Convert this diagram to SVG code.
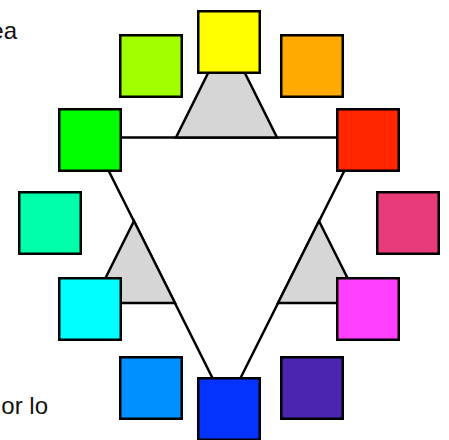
<svg xmlns="http://www.w3.org/2000/svg" width="449" height="440" viewBox="0 0 449 440">
<style>
.sq{stroke:#000;stroke-width:2.5}
.tri{fill:#d6d6d6;stroke:#000;stroke-width:2.5;stroke-linejoin:miter}
.big{fill:none;stroke:#000;stroke-width:2.5}
.txt{font-family:"Liberation Sans",Arial,sans-serif;font-size:24px;fill:#111}
</style>
<rect width="449" height="440" fill="#fff"/>
<text class="txt" x="17" y="39" text-anchor="end">ea</text>
<text class="txt" x="48" y="414" text-anchor="end">or lo</text>
<g id="connectors">
<polygon class="big" points="92,137.5 361,137.5 226.5,406"/>
<polygon class="tri" points="176,137.5 277,137.5 226.5,36"/>
<polygon class="tri" points="134,221 175,303 93,303"/>
<polygon class="tri" points="319,221 360,303 278,303"/>
</g>
<g id="yellow"><rect class="sq" x="198.25" y="11.25" width="61.5" height="61.5" fill="#ffff00"/></g>
<g id="lime"><rect class="sq" x="120.25" y="35.25" width="61.5" height="61.5" fill="#a2ff00"/></g>
<g id="orange"><rect class="sq" x="281.25" y="35.25" width="61.5" height="61.5" fill="#ffaa00"/></g>
<g id="green"><rect class="sq" x="59.25" y="109.25" width="61.5" height="61.5" fill="#00ff00"/></g>
<g id="red"><rect class="sq" x="337.25" y="109.25" width="61.5" height="61.5" fill="#ff2600"/></g>
<g id="teal"><rect class="sq" x="19.25" y="192.25" width="61.5" height="61.5" fill="#00ffaa"/></g>
<g id="pink"><rect class="sq" x="377.25" y="192.25" width="61.5" height="61.5" fill="#e83c7a"/></g>
<g id="cyan"><rect class="sq" x="59.25" y="278.25" width="61.5" height="61.5" fill="#00ffff"/></g>
<g id="magenta"><rect class="sq" x="337.25" y="278.25" width="61.5" height="61.5" fill="#ff40ff"/></g>
<g id="azure"><rect class="sq" x="120.25" y="357.25" width="61.5" height="61.5" fill="#0090ff"/></g>
<g id="purple"><rect class="sq" x="281.25" y="357.25" width="61.5" height="61.5" fill="#4b25b0"/></g>
<g id="blue"><rect class="sq" x="198.25" y="378.25" width="61.5" height="61.5" fill="#0433ff"/></g>
</svg>
